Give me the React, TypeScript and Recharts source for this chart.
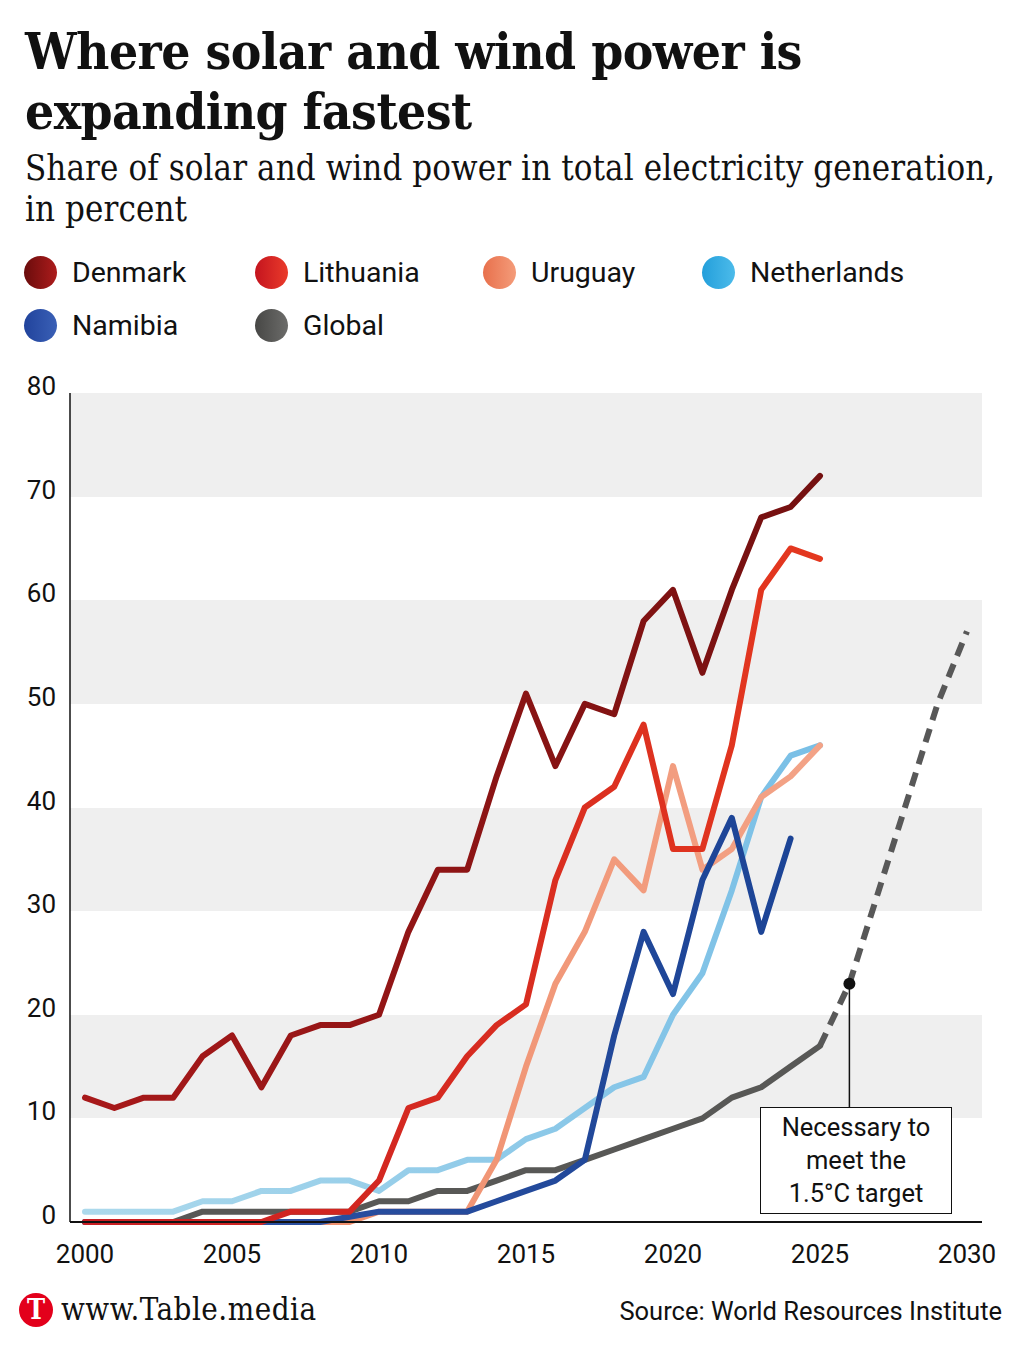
import { LineChart, Line, XAxis, YAxis, CartesianGrid, ReferenceDot, ReferenceLine } from 'recharts';

const years = [2000, 2001, 2002, 2003, 2004, 2005, 2006, 2007, 2008, 2009, 2010, 2011, 2012, 2013, 2014, 2015, 2016, 2017, 2018, 2019, 2020, 2021, 2022, 2023, 2024, 2025, 2026, 2027, 2028, 2029, 2030];
const xTicks = [2000, 2005, 2010, 2015, 2020, 2025, 2030];
const yTicks = [0, 10, 20, 30, 40, 50, 60, 70, 80];

const denmark = [12, 11, 12, 12, 16, 18, 13, 18, 19, 19, 20, 28, 34, 34, 43, 51, 44, 50, 49, 58, 61, 53, 61, 68, 69, 72];
const lithuania = [0, 0, 0, 0, 0, 0, 0, 1, 1, 1, 4, 11, 12, 16, 19, 21, 33, 40, 42, 48, 36, 36, 46, 61, 65, 64];
const uruguay = [0, 0, 0, 0, 0, 0, 0, 0, 0, 0, 1, 1, 1, 1, 6, 15, 23, 28, 35, 32, 44, 34, 36, 41, 43, 46];
const netherlands = [1, 1, 1, 1, 2, 2, 3, 3, 4, 4, 3, 5, 5, 6, 6, 8, 9, 11, 13, 14, 20, 24, 32, 41, 45, 46];
const namibia = [0, 0, 0, 0, 0, 0, 0, 0, 0, 0.5, 1, 1, 1, 1, 2, 3, 4, 6, 18, 28, 22, 33, 39, 28, 37];
const globalShare = [0, 0, 0, 0, 1, 1, 1, 1, 1, 1, 2, 2, 3, 3, 4, 5, 5, 6, 7, 8, 9, 10, 12, 13, 15, 17];
// 1.5°C pathway, 2025-2030
const targetYears = [2025, 2026, 2027, 2028, 2029, 2030];
const target = [17, 23, 32, 41, 50, 57];

const markerYear = 2026;
const markerValue = 23;
const calloutBottom = 11;

const legend = [
  { name: 'Denmark', from: '#6a0c0c', to: '#ad1c1c' },
  { name: 'Lithuania', from: '#c4141e', to: '#ea3b2b' },
  { name: 'Uruguay', from: '#e8704c', to: '#f49c7a' },
  { name: 'Netherlands', from: '#239fdb', to: '#4cbbea' },
  { name: 'Namibia', from: '#21439c', to: '#3a60b6' },
  { name: 'Global', from: '#474745', to: '#6c6c6a' },
];

const rows = years.map((year, i) => {
  const t = targetYears.indexOf(year);
  return {
    year,
    denmark: denmark[i] ?? null,
    lithuania: lithuania[i] ?? null,
    uruguay: uruguay[i] ?? null,
    netherlands: netherlands[i] ?? null,
    namibia: namibia[i] ?? null,
    global: globalShare[i] ?? null,
    target: t >= 0 ? target[t] : null,
  };
});

const sans = 'Roboto, "Noto Sans", sans-serif';
const slab = '"DejaVu Serif Condensed", "DejaVu Serif", serif';

function YTick({ y, payload }: any) {
  return (
    <text x={56} y={y + 2} textAnchor="end" fontFamily={sans} fontSize={26} fill="#111">
      {payload.value}
    </text>
  );
}

function XTick({ x, y, payload }: any) {
  return (
    <text x={x} y={y + 33} textAnchor="middle" fontFamily={sans} fontSize={26} fill="#111">
      {payload.value}
    </text>
  );
}

const lineProps = { strokeWidth: 6, dot: false, isAnimationActive: false, strokeLinejoin: 'round', strokeLinecap: 'round' } as any;

export default function App() {
  return (
    <div style={{ position: 'absolute', left: 0, top: 0, width: 1024, height: 1353, background: '#fff', color: '#111', overflow: 'hidden' }}>
      <div style={{ position: 'absolute', left: 25, top: 21, fontFamily: slab, fontWeight: 700, fontSize: 51, lineHeight: '60px', letterSpacing: -0.5 }}>
        Where solar and wind power is<br />expanding fastest
      </div>
      <div style={{ position: 'absolute', left: 25, top: 148, fontFamily: slab, fontSize: 34.5, lineHeight: '41px', letterSpacing: 0.1, whiteSpace: 'nowrap' }}>
        Share of solar and wind power in total electricity generation,<br />in percent
      </div>

      <div style={{ position: 'absolute', left: 24, top: 256, width: 980, display: 'flex', flexWrap: 'wrap', rowGap: 20 }}>
        {legend.map((item, i) => (
          <div key={item.name} style={{ display: 'flex', alignItems: 'center', width: [231, 228, 219, 260][i % 4], height: 33 }}>
            <span style={{ width: 33, height: 33, borderRadius: '50%', background: `linear-gradient(90deg, ${item.from}, ${item.to})`, marginRight: 15, flexShrink: 0 }} />
            <span style={{ fontFamily: sans, fontSize: 28.5 }}>{item.name}</span>
          </div>
        ))}
      </div>

      <div style={{ position: 'absolute', left: 0, top: 370 }}>
        <LineChart width={1024} height={910} data={rows} margin={{ top: 23, right: 42, left: 0, bottom: 18 }}>
          <defs>
            <linearGradient id="gDen" x1="0" y1="0" x2="1" y2="0">
              <stop offset="0%" stopColor="#a8191a" />
              <stop offset="100%" stopColor="#741010" />
            </linearGradient>
            <linearGradient id="gLit" x1="0" y1="0" x2="1" y2="0">
              <stop offset="0%" stopColor="#c81d22" />
              <stop offset="100%" stopColor="#e4381f" />
            </linearGradient>
            <linearGradient id="gUru" x1="0" y1="0" x2="1" y2="0">
              <stop offset="0%" stopColor="#ee8560" />
              <stop offset="100%" stopColor="#f3a387" />
            </linearGradient>
            <linearGradient id="gNet" x1="0" y1="0" x2="1" y2="0">
              <stop offset="0%" stopColor="#acd9ec" />
              <stop offset="100%" stopColor="#79bfe6" />
            </linearGradient>
            <linearGradient id="gNam" x1="0" y1="0" x2="1" y2="0">
              <stop offset="0%" stopColor="#2f53a4" />
              <stop offset="100%" stopColor="#1c4496" />
            </linearGradient>
          </defs>
          <CartesianGrid vertical={false} stroke="none" horizontalFill={['#efefef', '#ffffff']} />
          <XAxis
            dataKey="year"
            type="number"
            domain={[2000, 2030]}
            ticks={xTicks}
            padding={{ left: 15, right: 15 }}
            height={40}
            tickLine={false}
            axisLine={{ stroke: '#111', strokeWidth: 2 }}
            tick={<XTick />}
            interval={0}
          />
          <YAxis
            type="number"
            domain={[0, 80]}
            ticks={yTicks}
            width={70}
            tickLine={false}
            axisLine={{ stroke: '#111', strokeWidth: 1.5 }}
            tick={<YTick />}
            interval={0}
          />
          <Line dataKey="target" stroke="#585858" strokeWidth={6} strokeDasharray="14 9" dot={false} isAnimationActive={false} />
          <Line dataKey="global" stroke="#585856" {...lineProps} />
          <Line dataKey="netherlands" stroke="url(#gNet)" {...lineProps} />
          <Line dataKey="uruguay" stroke="url(#gUru)" {...lineProps} />
          <Line dataKey="namibia" stroke="url(#gNam)" {...lineProps} />
          <Line dataKey="lithuania" stroke="url(#gLit)" {...lineProps} />
          <Line dataKey="denmark" stroke="url(#gDen)" {...lineProps} />
          <ReferenceLine segment={[{ x: markerYear, y: markerValue }, { x: markerYear, y: calloutBottom }]} stroke="#111" strokeWidth={1.5} />
          <ReferenceDot x={markerYear} y={markerValue} r={6} fill="#111" stroke="none" />
        </LineChart>
      </div>

      <div style={{ position: 'absolute', left: 760, top: 1107, width: 190, height: 105, border: '1.5px solid #111', background: '#fff', fontFamily: sans, fontSize: 25.5, lineHeight: '33px', textAlign: 'center', display: 'flex', alignItems: 'center', justifyContent: 'center' }}>
        <div>Necessary to<br />meet the<br />1.5°C target</div>
      </div>

      <div style={{ position: 'absolute', left: 19, top: 1293, width: 34, height: 34, borderRadius: '50%', background: '#e3001b', color: '#fff', fontFamily: slab, fontWeight: 700, fontSize: 27, lineHeight: '34px', textAlign: 'center' }}>T</div>
      <div style={{ position: 'absolute', left: 61, top: 1290, fontFamily: slab, fontSize: 31, lineHeight: '38px', letterSpacing: 0.5 }}>www.Table.media</div>
      <div style={{ position: 'absolute', right: 22, top: 1295, fontFamily: sans, fontSize: 25.5, lineHeight: '32px' }}>Source: World Resources Institute</div>
    </div>
  );
}
